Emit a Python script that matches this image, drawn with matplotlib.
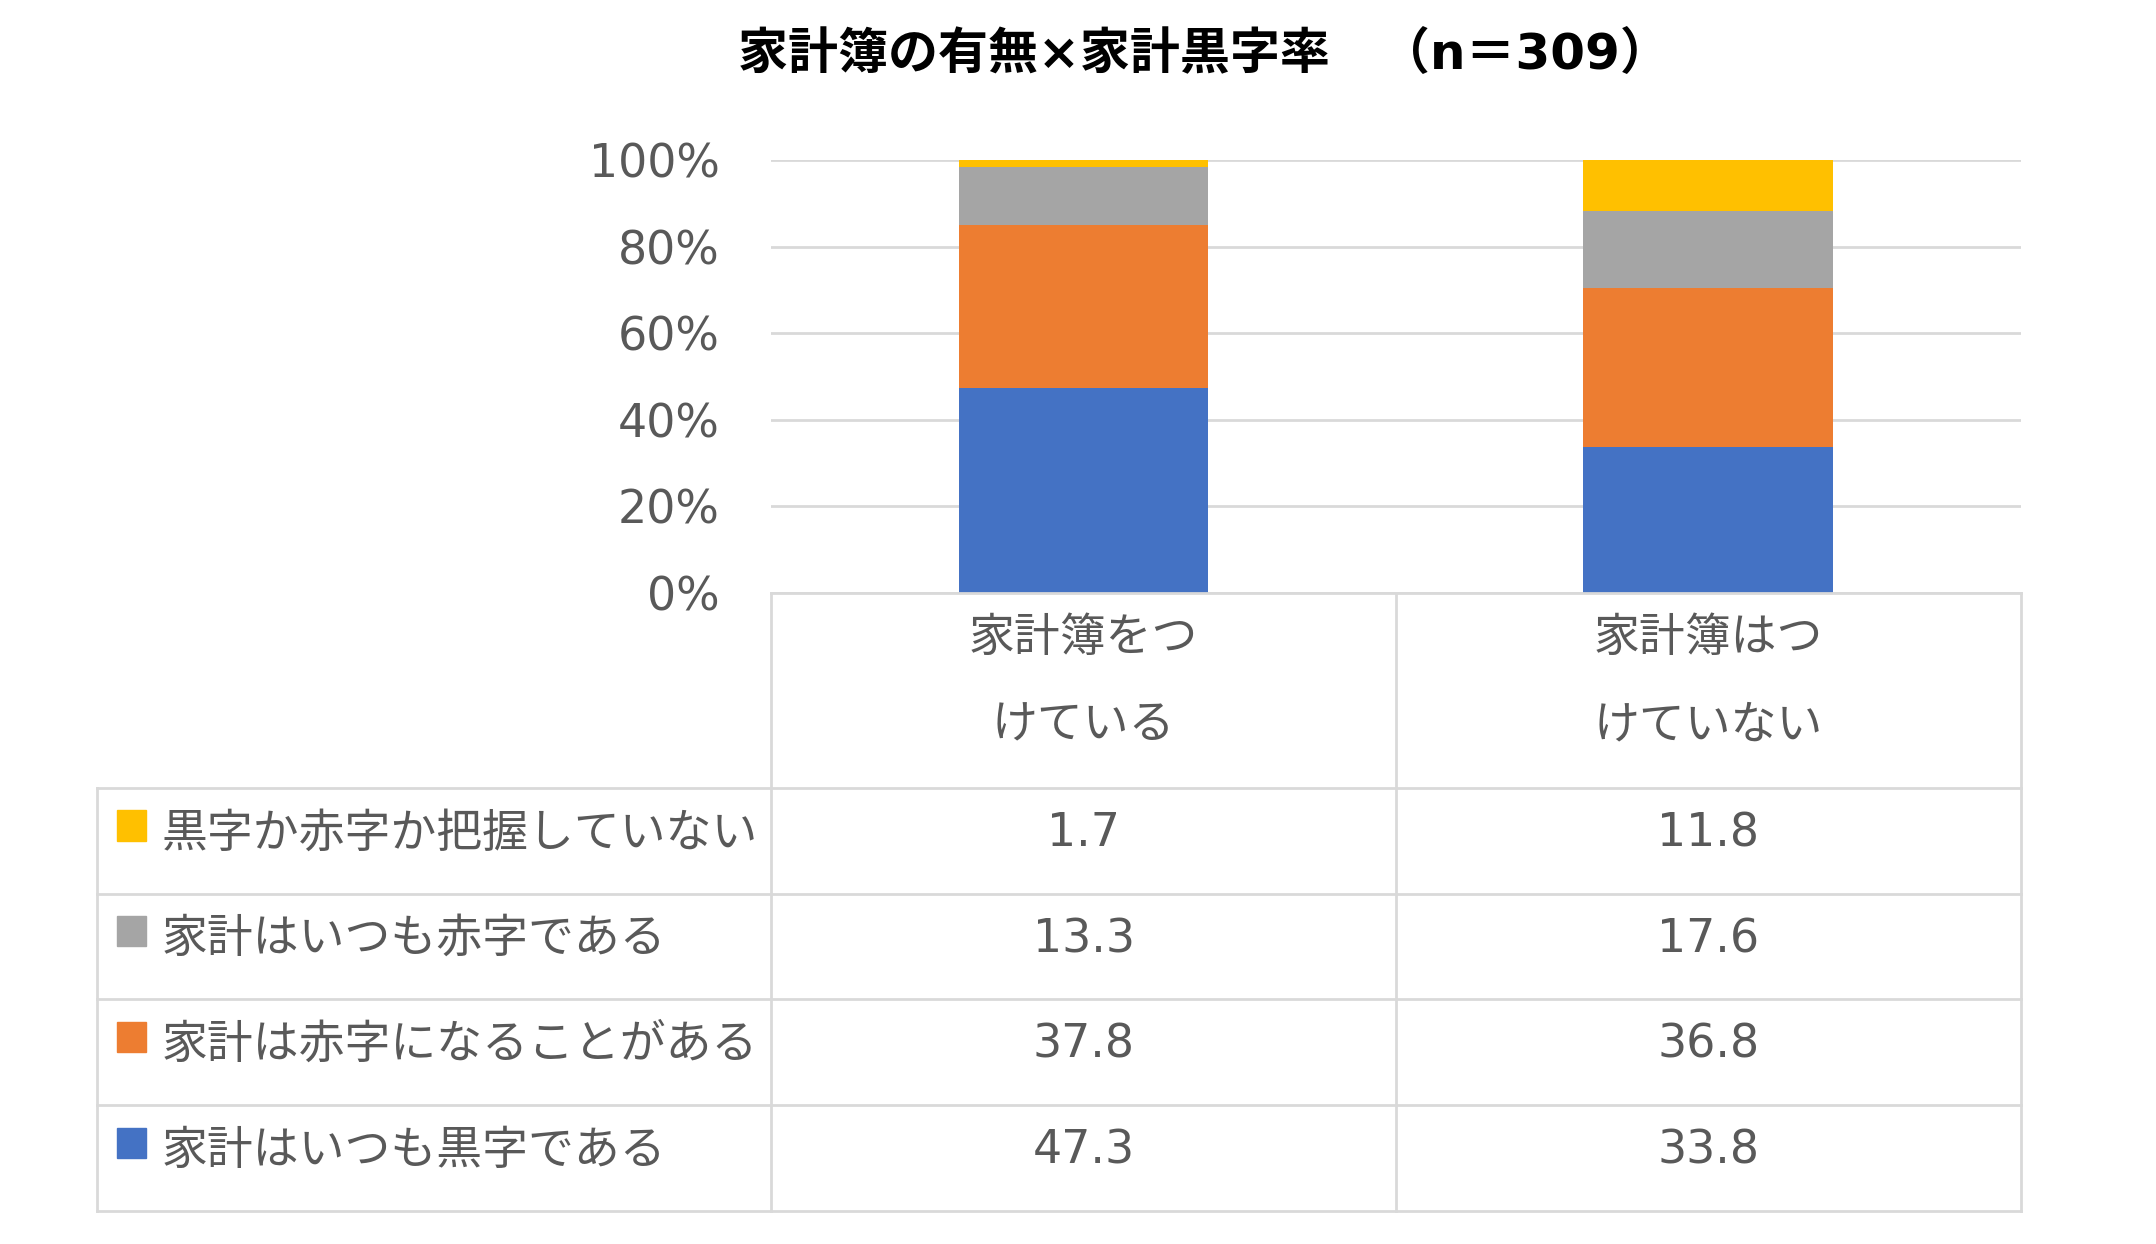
import matplotlib
matplotlib.use("Agg")
import matplotlib.pyplot as plt
from matplotlib.patches import Rectangle
from matplotlib.transforms import blended_transform_factory

plt.rcParams['font.family'] = ['DejaVu Sans', 'Noto Sans CJK JP']

# data
title = "家計簿の有無×家計黒字率　（n＝309）"
categories = ["家計簿をつ\nけている", "家計簿はつ\nけていない"]
series_names = ["家計はいつも黒字である", "家計は赤字になることがある",
                "家計はいつも赤字である", "黒字か赤字か把握していない"]
series_colors = ["#4472C4", "#ED7D31", "#A5A5A5", "#FFC000"]
always_surplus = [47.3, 33.8]
sometimes_deficit = [37.8, 36.8]
always_deficit = [13.3, 17.6]
unknown = [1.7, 11.8]
series_values = [always_surplus, sometimes_deficit, always_deficit, unknown]
y_ticks = [0, 20, 40, 60, 80, 100]

# layout, in units of a 1560 x 900 canvas
W, H = 1560, 900
plot_l, plot_r = 558, 1462
plot_top, plot_bot = 116, 429
header_bot = 570
row_h = 76.5
table_l = 70
text_color = "#595959"
line_color = "#D9D9D9"
fs = 33

fig = plt.figure(figsize=(21.56, 12.44), dpi=100)
fig.patch.set_facecolor("white")

ax = fig.add_axes([plot_l / W, 1 - plot_bot / H,
                   (plot_r - plot_l) / W, (plot_bot - plot_top) / H])
x = list(range(len(categories)))
bottom = [0] * len(categories)
for vals, col in zip(series_values, series_colors):
    ax.bar(x, vals, width=0.4, bottom=bottom, color=col, zorder=2)
    bottom = [b + v for b, v in zip(bottom, vals)]
ax.set_xlim(-0.5, len(categories) - 0.5)
ax.set_ylim(0, 100)
ax.set_yticks(y_ticks)
ax.set_yticklabels([f"{v}%" for v in y_ticks], fontsize=fs, color=text_color)
ax.set_xticks([])
ax.tick_params(axis="y", length=0, pad=37)
ax.yaxis.grid(True, color=line_color, lw=2)
ax.set_axisbelow(True)
for s in ax.spines.values():
    s.set_visible(False)
ax.patch.set_alpha(0)

# overlay for title and data table
ov = fig.add_axes([0, 0, 1, 1], zorder=3)
ov.set_xlim(0, W)
ov.set_ylim(H, 0)
ov.axis("off")
ov.patch.set_alpha(0)

ov.text(871, 40, title, fontsize=36, fontweight="bold", color="black",
        ha="center", va="center")

n_rows = len(series_names)
table_bot = header_bot + n_rows * row_h
lk = dict(color=line_color, lw=2, solid_capstyle="projecting")
ov.plot([plot_l, plot_r], [plot_bot, plot_bot], **lk)
for i in range(n_rows + 1):
    y = header_bot + i * row_h
    ov.plot([table_l, plot_r], [y, y], **lk)
col_w = (plot_r - plot_l) / len(categories)
for i in range(len(categories) + 1):
    xv = plot_l + i * col_w
    ov.plot([xv, xv], [plot_bot, table_bot], **lk)
ov.plot([table_l, table_l], [header_bot, table_bot], **lk)

# header and values use the bar axis x scale
tr = blended_transform_factory(ax.transData, ov.transData)
for i, cat in enumerate(categories):
    for j, part in enumerate(cat.split("\n")):
        ov.text(i, 462 + j * 63, part, transform=tr, fontsize=fs,
                color=text_color, ha="center", va="center")

rows = list(range(n_rows))[::-1]  # top row is last series
for r, si in enumerate(rows):
    yc = header_bot + (r + 0.5) * row_h
    ov.add_patch(Rectangle((85, yc - 22), 21, 22, color=series_colors[si]))
    ov.text(117, yc - 5, series_names[si], fontsize=fs, color=text_color,
            ha="left", va="center")
    for i, v in enumerate(series_values[si]):
        ov.text(i, yc - 5, f"{v:.1f}", transform=tr, fontsize=fs,
                color=text_color, ha="center", va="center")

fig.savefig("out.png", dpi=100)
